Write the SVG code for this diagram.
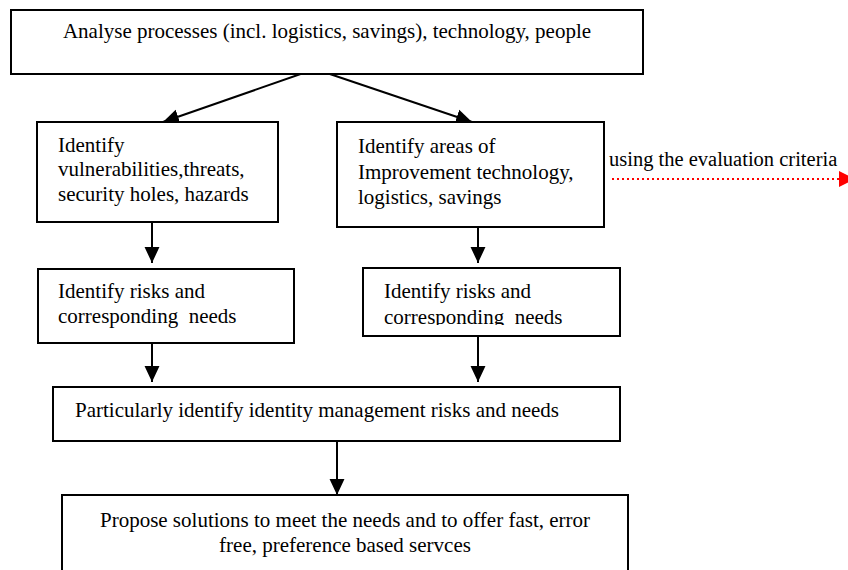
<svg xmlns="http://www.w3.org/2000/svg" width="848" height="570" viewBox="0 0 848 570">
<style>
  .box { fill: #fff; stroke: #000; stroke-width: 2; }
  .t { font-family: "Liberation Serif", "Times New Roman", serif; font-size: 21px; fill: #000; }
  .c { text-anchor: middle; }
  .lbl { font-size: 20.5px; }
  .conn { stroke: #000; stroke-width: 2; fill: none; }
  .red { stroke: #f00; stroke-width: 2; stroke-dasharray: 2 3; fill: none; }
</style>
<defs>
  <marker id="ah" markerUnits="userSpaceOnUse" markerWidth="16" markerHeight="16" viewBox="0 0 15 14" refX="15" refY="7" orient="auto">
    <path d="M0,0 L15,7 L0,14 z" fill="#000"/>
  </marker>
  <marker id="ahr" markerUnits="userSpaceOnUse" markerWidth="16" markerHeight="16" viewBox="0 0 14 14" refX="0" refY="7" orient="auto">
    <path d="M0,0 L14,7 L0,14 z" fill="#f00"/>
  </marker>
  <clipPath id="clip5"><rect x="363" y="268" width="257" height="57"/></clipPath>
</defs>

<g id="connectors">
  <line class="conn" x1="315" y1="69" x2="163" y2="122" marker-end="url(#ah)"/>
  <line class="conn" x1="315" y1="69" x2="472" y2="122" marker-end="url(#ah)"/>
  <line class="conn" x1="152" y1="222" x2="152" y2="263" marker-end="url(#ah)"/>
  <line class="conn" x1="478" y1="227" x2="478" y2="263" marker-end="url(#ah)"/>
  <line class="conn" x1="152" y1="343" x2="152" y2="382" marker-end="url(#ah)"/>
  <line class="conn" x1="478" y1="336" x2="478" y2="382" marker-end="url(#ah)"/>
  <line class="conn" x1="337" y1="441" x2="337" y2="495" marker-end="url(#ah)"/>
  <line class="red" x1="612" y1="179" x2="839" y2="179" marker-end="url(#ahr)"/>
  <text class="t lbl" x="609" y="166">using the evaluation criteria</text>
</g>

<g id="analyse">
  <rect class="box" x="11" y="10" width="632" height="64"/>
  <text class="t c" x="327" y="38">Analyse processes (incl. logistics, savings), technology, people</text>
</g>

<g id="vulnerabilities">
  <rect class="box" x="37" y="122" width="241" height="100"/>
  <text class="t" x="58" y="152">Identify</text>
  <text class="t" x="58" y="176">vulnerabilities,threats,</text>
  <text class="t" x="58" y="201">security holes, hazards</text>
</g>

<g id="improvement">
  <rect class="box" x="337" y="122" width="267" height="105"/>
  <text class="t" x="358" y="153">Identify areas of</text>
  <text class="t" x="358" y="179">Improvement technology,</text>
  <text class="t" x="358" y="204">logistics, savings</text>
</g>

<g id="risks-left">
  <rect class="box" x="38" y="269" width="256" height="74"/>
  <text class="t" x="58" y="298">Identify risks and</text>
  <text class="t" x="58" y="323" xml:space="preserve">corresponding  needs</text>
</g>

<g id="risks-right">
  <rect class="box" x="363" y="268" width="257" height="68"/>
  <g clip-path="url(#clip5)">
    <text class="t" x="384" y="298">Identify risks and</text>
    <text class="t" x="384" y="324" xml:space="preserve">corresponding  needs</text>
  </g>
</g>

<g id="identity">
  <rect class="box" x="53" y="387" width="567" height="54"/>
  <text class="t" x="75" y="417">Particularly identify identity management risks and needs</text>
</g>

<g id="propose">
  <rect class="box" x="62" y="495" width="566" height="90"/>
  <text class="t c" x="345" y="527">Propose solutions to meet the needs and to offer fast, error</text>
  <text class="t c" x="345" y="552">free, preference based servces</text>
</g>
</svg>
